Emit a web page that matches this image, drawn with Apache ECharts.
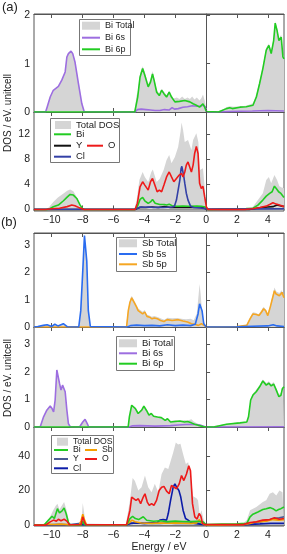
<!DOCTYPE html>
<html><head><meta charset="utf-8">
<script src="https://cdn.jsdelivr.net/npm/echarts@6/dist/echarts.min.js"></script>
<style>html,body{margin:0;padding:0;background:#fff}#c{width:287px;height:554px}</style>
</head><body><div id="c"></div>
<script>
// ---------- data: [energy (eV), DOS] ----------
const energyTicks = [-10,-8,-6,-4,-2,0,2,4];
const yTicks1 = [0,1,2], yTicks2 = [0,4,8,12], yTicks3 = [0,1,2,3], yTicks4 = [0,1,2,3], yTicks5 = [0,20,40];

// Panel (a) top
const a_biTotal = [[-11.15,0],[-10.4,0],[-10.3,0.1],[-10.1,0.31],[-9.9,0.45],[-9.57,0.53],[-9.35,0.66],[-9.13,0.85],[-9.02,1.15],[-8.92,1.22],[-8.75,1.27],[-8.64,1.22],[-8.49,1.04],[-8.27,0.6],[-8.05,0.18],[-7.9,0.02],[-7.8,0],[-4.65,0],[-4.5,0.35],[-4.43,0.4],[-4.28,0.8],[-4.11,0.95],[-3.97,0.83],[-3.75,0.58],[-3.6,0.68],[-3.47,0.85],[-3.37,0.72],[-3.2,0.46],[-3.03,0.38],[-2.88,0.48],[-2.73,0.42],[-2.56,0.35],[-2.39,0.44],[-2.24,0.34],[-2.1,0.28],[-1.9,0.3],[-1.72,0.27],[-1.55,0.32],[-1.38,0.27],[-1.2,0.3],[-1.05,0.27],[-0.9,0.32],[-0.75,0.26],[-0.6,0.3],[-0.42,0.24],[-0.3,0.29],[-0.2,0.36],[-0.09,0.24],[0.02,0.05],[0.1,0],[0.6,0],[1.0,0.04],[1.32,0.1],[1.53,0.12],[1.8,0.11],[2.2,0.12],[2.6,0.13],[3.04,0.18],[3.26,0.36],[3.47,0.64],[3.68,0.95],[3.9,1.33],[4.07,1.42],[4.22,1.27],[4.38,1.53],[4.48,1.88],[4.6,1.74],[4.72,1.53],[4.87,1.6],[4.98,1.2],[5.05,1.15]];
const a_bi6s = [[-11.15,0],[-10.4,0],[-10.3,0.1],[-10.1,0.31],[-9.9,0.45],[-9.57,0.53],[-9.35,0.66],[-9.13,0.83],[-9.02,1.14],[-8.92,1.21],[-8.75,1.26],[-8.64,1.21],[-8.49,1.03],[-8.27,0.59],[-8.05,0.17],[-7.9,0.01],[-7.8,0],[-4.6,0],[-4.45,0.05],[-4.2,0.06],[-3.9,0.05],[-3.6,0.04],[-3.3,0.03],[-3.0,0.03],[-2.7,0.05],[-2.4,0.04],[-2.2,0.09],[-2.05,0.06],[-1.8,0.07],[-1.5,0.1],[-1.2,0.11],[-0.9,0.13],[-0.6,0.12],[-0.35,0.12],[-0.2,0.15],[-0.05,0.1],[0.05,0],[0.6,0],[1.5,0.01],[3,0.02],[4,0.03],[5.05,0.02]];
const a_bi6p = [[-11.15,0],[-4.62,0],[-4.43,0.31],[-4.28,0.72],[-4.11,0.9],[-3.97,0.76],[-3.75,0.52],[-3.6,0.62],[-3.47,0.79],[-3.37,0.66],[-3.2,0.41],[-3.03,0.34],[-2.88,0.45],[-2.73,0.38],[-2.56,0.31],[-2.39,0.41],[-2.24,0.31],[-2.02,0.21],[-1.72,0.22],[-1.38,0.24],[-1.05,0.21],[-0.84,0.17],[-0.63,0.14],[-0.42,0.1],[-0.2,0.17],[-0.09,0.1],[0.02,0.01],[0.1,0],[0.8,0],[1.32,0.07],[1.53,0.09],[1.7,0.07],[2.2,0.1],[2.6,0.11],[3.04,0.14],[3.26,0.31],[3.47,0.59],[3.68,0.9],[3.9,1.28],[4.07,1.38],[4.22,1.21],[4.38,1.48],[4.48,1.84],[4.6,1.69],[4.72,1.48],[4.87,1.55],[4.98,1.14],[5.05,1.1]];

// Panel (a) bottom
const a_totalDOS = [[-11.15,0],[-10.4,0],[-10.2,0.3],[-9.9,1.2],[-9.6,1.9],[-9.24,2.56],[-9.0,3.0],[-8.81,3.2],[-8.6,2.9],[-8.38,2.0],[-8.16,0.8],[-7.95,0.1],[-7.8,0],[-4.65,0],[-4.5,1.5],[-4.32,4.7],[-4.11,6.0],[-3.97,5.2],[-3.75,4.4],[-3.55,6.0],[-3.45,6.4],[-3.2,4.4],[-3.0,4.9],[-2.75,6.3],[-2.56,7.9],[-2.39,8.7],[-2.24,7.4],[-2.02,8.4],[-1.81,10.0],[-1.65,12.5],[-1.59,13.9],[-1.49,12.7],[-1.38,10.8],[-1.17,11.1],[-0.95,9.5],[-0.84,11.1],[-0.63,12.2],[-0.5,10.8],[-0.4,6.3],[-0.2,6.6],[-0.09,3.6],[0.02,0.4],[0.15,0],[1.0,0],[2.0,0.05],[2.6,0.2],[3.04,0.45],[3.36,1.5],[3.68,2.6],[3.9,4.7],[4.07,5.2],[4.22,4.2],[4.43,5.5],[4.6,4.7],[4.75,3.7],[4.9,3.5],[5.05,3.4]];
const a_Bi = [[-11.15,0],[-10.3,0],[-10.1,0.16],[-9.9,0.43],[-9.57,0.7],[-9.24,1.39],[-9.02,1.92],[-8.81,2.4],[-8.6,2.3],[-8.38,1.76],[-8.16,0.69],[-7.99,0.1],[-7.85,0],[-4.62,0],[-4.43,0.6],[-4.28,1.6],[-4.11,1.92],[-3.97,1.39],[-3.75,0.96],[-3.6,1.2],[-3.47,1.6],[-3.3,1.0],[-3.2,0.7],[-3.0,0.8],[-2.88,0.96],[-2.7,0.8],[-2.56,0.7],[-2.39,0.85],[-2.2,0.6],[-1.9,0.5],[-1.5,0.55],[-1.1,0.5],[-0.6,0.55],[-0.3,0.5],[-0.2,0.7],[-0.05,0.4],[0.05,0.05],[0.2,0],[1.0,0.05],[2.0,0.1],[2.6,0.15],[3.04,0.2],[3.36,0.7],[3.68,1.5],[3.9,2.13],[4.12,2.56],[4.28,2.83],[4.43,3.73],[4.55,3.36],[4.7,2.83],[4.85,2.56],[5.05,1.92]];
const a_Y = [[-11.15,0],[-4.6,0],[-4.45,0.2],[-4.2,0.35],[-3.9,0.3],[-3.5,0.4],[-3.1,0.3],[-2.7,0.45],[-2.3,0.3],[-1.9,0.35],[-1.5,0.3],[-1.1,0.35],[-0.7,0.3],[-0.3,0.35],[-0.1,0.2],[0.1,0],[2.8,0],[3.2,0.15],[3.6,0.3],[4.0,0.4],[4.33,0.45],[4.6,0.7],[4.8,0.6],[5.05,0.45]];
const a_O = [[-11.15,0],[-10.4,0],[-10.0,0.1],[-9.5,0.2],[-9.0,0.45],[-8.7,0.7],[-8.5,0.6],[-8.2,0.25],[-7.9,0],[-4.6,0],[-4.45,1.0],[-4.28,3.63],[-4.11,4.43],[-3.97,3.9],[-3.75,3.1],[-3.6,4.43],[-3.47,4.96],[-3.32,3.9],[-3.17,2.83],[-3.03,3.1],[-2.88,2.83],[-2.73,3.9],[-2.56,5.2],[-2.39,6.0],[-2.24,5.2],[-2.09,4.43],[-1.92,4.96],[-1.74,5.5],[-1.59,5.76],[-1.49,5.2],[-1.38,6.0],[-1.28,7.1],[-1.17,7.6],[-1.06,6.8],[-0.95,6.0],[-0.84,7.1],[-0.74,8.96],[-0.63,10.1],[-0.52,8.96],[-0.42,4.2],[-0.31,3.36],[-0.2,3.7],[-0.09,2.0],[0.02,0.4],[0.13,0],[2.5,0],[3.0,0.1],[3.5,0.3],[3.9,0.53],[4.12,0.8],[4.33,1.07],[4.55,0.85],[4.75,0.7],[5.05,0.45]];
const a_Cl = [[-11.15,0.02],[-4.6,0.02],[-4.43,0.2],[-4.28,0.4],[-4.0,0.35],[-3.7,0.4],[-3.4,0.3],[-3.1,0.35],[-2.8,0.3],[-2.5,0.35],[-2.2,0.4],[-2.05,0.5],[-1.92,1.5],[-1.81,3.1],[-1.7,4.7],[-1.62,6.5],[-1.57,6.9],[-1.5,6.0],[-1.44,5.2],[-1.38,4.2],[-1.28,2.6],[-1.17,1.5],[-1.0,0.5],[-0.8,0.3],[-0.4,0.25],[0.0,0.1],[0.15,0.05],[5.05,0.1]];

// Panel (b) top
const b_sbTotal = [[-11.15,0],[-10.9,0.02],[-10.55,0.07],[-10.3,0.09],[-10.0,0.03],[-9.8,0.1],[-9.6,0.04],[-9.25,0.12],[-9.0,0.02],[-8.25,0],[-8.12,0.6],[-7.99,2.1],[-7.88,3.38],[-7.82,3.45],[-7.73,2.45],[-7.63,0.62],[-7.5,0.02],[-5.2,0],[-5.04,0.65],[-4.93,0.98],[-4.82,1.15],[-4.72,1.1],[-4.61,0.93],[-4.5,0.8],[-4.4,0.68],[-4.28,0.74],[-4.11,0.56],[-3.97,0.62],[-3.85,0.46],[-3.7,0.43],[-3.52,0.38],[-3.35,0.4],[-3.1,0.36],[-2.88,0.3],[-2.7,0.27],[-2.5,0.34],[-2.2,0.32],[-1.9,0.33],[-1.6,0.3],[-1.3,0.28],[-1.0,0.3],[-0.8,0.25],[-0.6,0.5],[-0.48,1.2],[-0.42,1.58],[-0.35,1.2],[-0.28,0.7],[-0.15,0.2],[0.0,0.02],[0.15,0],[1.5,0],[2.3,0.04],[2.64,0.1],[2.85,0.35],[3.04,0.54],[3.2,0.52],[3.4,0.47],[3.6,0.62],[3.73,0.74],[3.85,0.65],[4.0,0.5],[4.16,0.8],[4.28,1.08],[4.43,1.45],[4.55,1.3],[4.65,1.35],[4.75,1.25],[4.9,1.35],[5.05,1.15]];
const b_sb5s = [[-11.15,0],[-10.9,0.02],[-10.55,0.06],[-10.3,0.08],[-10.0,0.02],[-9.8,0.1],[-9.6,0.04],[-9.25,0.12],[-9.0,0.01],[-8.25,0],[-8.12,0.6],[-7.99,2.06],[-7.88,3.36],[-7.82,3.42],[-7.73,2.42],[-7.63,0.6],[-7.5,0.02],[-5.1,0],[-4.9,0.05],[-4.5,0.07],[-4.0,0.05],[-3.5,0.06],[-3.0,0.04],[-2.5,0.08],[-2.0,0.05],[-1.5,0.07],[-1.0,0.05],[-0.7,0.1],[-0.52,0.48],[-0.42,0.85],[-0.36,0.91],[-0.26,0.6],[-0.15,0.12],[0.0,0.01],[0.2,0],[2.0,0.01],[3.0,0.03],[4.0,0.04],[4.35,0.08],[4.6,0.04],[5.05,0.02]];
const b_sb5p = [[-11.15,0],[-5.15,0],[-5.04,0.6],[-4.93,0.91],[-4.82,1.07],[-4.72,1.03],[-4.61,0.85],[-4.5,0.73],[-4.4,0.6],[-4.28,0.67],[-4.11,0.48],[-3.97,0.55],[-3.83,0.39],[-3.66,0.36],[-3.5,0.3],[-3.35,0.33],[-3.15,0.3],[-2.95,0.24],[-2.73,0.2],[-2.52,0.27],[-2.2,0.24],[-1.8,0.27],[-1.5,0.22],[-1.2,0.18],[-0.95,0.12],[-0.75,0.1],[-0.5,0.06],[-0.3,0.12],[-0.1,0.05],[0.05,0],[2.0,0.02],[2.64,0.06],[2.85,0.3],[3.04,0.48],[3.26,0.46],[3.43,0.42],[3.6,0.55],[3.73,0.67],[3.86,0.6],[4.0,0.42],[4.16,0.73],[4.28,1.0],[4.43,1.33],[4.54,1.21],[4.65,1.27],[4.75,1.15],[4.92,1.27],[5.05,1.07]];

// Panel (b) middle
const b_biTotal = [[-11.15,0],[-10.75,0],[-10.53,0.38],[-10.32,0.63],[-10.1,0.78],[-9.98,0.69],[-9.88,0.57],[-9.78,1.0],[-9.67,2.1],[-9.6,2.15],[-9.5,1.62],[-9.4,1.36],[-9.3,1.55],[-9.24,1.62],[-9.13,1.3],[-9.02,0.63],[-8.92,0.13],[-8.8,0.01],[-8.2,0],[-7.99,0.19],[-7.84,0.29],[-7.7,0.13],[-7.6,0],[-5.05,0],[-4.97,0.38],[-4.82,0.82],[-4.7,0.86],[-4.58,0.7],[-4.4,0.52],[-4.17,0.64],[-4.03,0.79],[-3.85,0.62],[-3.7,0.46],[-3.55,0.52],[-3.4,0.42],[-3.15,0.38],[-2.9,0.35],[-2.65,0.28],[-2.5,0.33],[-2.3,0.22],[-2.0,0.25],[-1.7,0.22],[-1.4,0.25],[-1.2,0.24],[-0.95,0.28],[-0.8,0.2],[-0.6,0.14],[-0.35,0.08],[-0.1,0.03],[0.1,0],[1.0,0.08],[1.32,0.12],[2.0,0.16],[2.64,0.2],[2.75,0.4],[2.89,1.02],[3.04,1.22],[3.25,1.35],[3.47,1.52],[3.68,1.72],[3.9,1.6],[4.07,1.66],[4.22,1.56],[4.38,1.63],[4.55,1.42],[4.72,1.18],[4.85,1.25],[4.95,1.47],[5.05,1.52]];
const b_bi6s = [[-11.15,0],[-10.75,0],[-10.53,0.37],[-10.32,0.61],[-10.1,0.76],[-9.98,0.67],[-9.88,0.55],[-9.78,0.98],[-9.67,2.07],[-9.6,2.13],[-9.5,1.59],[-9.4,1.34],[-9.3,1.52],[-9.24,1.59],[-9.13,1.28],[-9.02,0.61],[-8.92,0.12],[-8.8,0.01],[-8.2,0],[-7.99,0.18],[-7.84,0.28],[-7.7,0.12],[-7.6,0],[-5.0,0],[-4.8,0.04],[-4.3,0.05],[-3.8,0.04],[-3.3,0.03],[-2.8,0.04],[-2.3,0.05],[-1.8,0.07],[-1.3,0.09],[-0.8,0.1],[-0.4,0.07],[-0.1,0.02],[0.1,0],[5.05,0.01]];
const b_bi6p = [[-11.15,0],[-5.05,0],[-4.97,0.37],[-4.82,0.79],[-4.7,0.83],[-4.58,0.67],[-4.4,0.49],[-4.17,0.61],[-4.03,0.76],[-3.85,0.59],[-3.7,0.43],[-3.55,0.49],[-3.4,0.39],[-3.15,0.36],[-2.9,0.34],[-2.65,0.24],[-2.5,0.3],[-2.3,0.18],[-2.0,0.2],[-1.7,0.22],[-1.4,0.18],[-1.2,0.2],[-0.95,0.15],[-0.75,0.1],[-0.5,0.06],[-0.2,0.02],[0.05,0],[0.5,0],[1.32,0.1],[2.2,0.15],[2.64,0.18],[2.75,0.37],[2.89,0.98],[3.04,1.16],[3.25,1.28],[3.47,1.46],[3.68,1.67],[3.9,1.52],[4.07,1.59],[4.22,1.49],[4.38,1.56],[4.55,1.34],[4.72,1.1],[4.85,1.15],[4.95,1.4],[5.05,1.46]];

// Panel (b) bottom
const b_totalDOS = [[-11.15,0],[-10.5,0],[-10.21,2.9],[-9.88,8.95],[-9.75,11],[-9.63,12.4],[-9.5,9],[-9.4,9.5],[-9.2,13.3],[-9.05,9],[-8.85,1],[-8.7,0.2],[-8.15,0.3],[-8.05,5],[-7.99,12.8],[-7.9,7],[-7.8,1],[-7.7,0.2],[-5.2,0.3],[-4.93,14.3],[-4.76,27.2],[-4.61,25.5],[-4.39,20],[-4.18,21.9],[-3.96,28.6],[-3.75,21.9],[-3.53,19],[-3.32,23.8],[-3.1,19],[-2.88,29.5],[-2.67,33.3],[-2.45,32.4],[-2.35,35.2],[-2.13,41.9],[-1.96,47.6],[-1.81,46.5],[-1.66,47],[-1.49,41],[-1.31,35.2],[-1.16,36.2],[-1.05,31.4],[-0.84,16.6],[-0.62,15.5],[-0.52,14.3],[-0.41,5.7],[-0.3,8.6],[-0.15,2.9],[0.02,0.3],[1.5,0.5],[2.4,1],[2.64,2.9],[2.85,8.6],[3.26,10.5],[3.68,13.3],[3.9,14.3],[4.12,18.1],[4.33,19],[4.55,17.1],[4.75,20],[4.95,19],[5.05,18]];
const b_Bi = [[-11.15,0],[-10.5,0],[-10.21,2.9],[-9.98,5.1],[-9.83,3.8],[-9.63,9.5],[-9.5,7.0],[-9.33,8.2],[-9.2,9.9],[-9.07,6.7],[-8.92,1.5],[-8.8,0.2],[-8.1,0],[-7.99,2.3],[-7.88,0.2],[-5.15,0.2],[-4.93,3.8],[-4.76,5.1],[-4.58,3.8],[-4.37,3.2],[-4.07,4.8],[-3.85,2.8],[-3.4,2.2],[-3.0,2.5],[-2.5,2.0],[-2.0,2.3],[-1.5,2.1],[-1.0,2.0],[-0.6,2.2],[-0.2,1.9],[0.0,0.3],[1.0,0.6],[2.0,0.8],[2.64,1],[2.85,4.8],[3.04,6.3],[3.36,7.6],[3.68,9],[3.9,9.5],[4.16,10.1],[4.33,9.5],[4.54,8.2],[4.7,9],[4.85,9.5],[5.05,10.5]];
const b_Sb = [[-11.15,0],[-10.6,0.2],[-10.2,0.5],[-9.8,0.4],[-9.4,0.6],[-9.0,0.3],[-8.6,0.1],[-8.2,0.3],[-8.1,2.5],[-7.99,6.3],[-7.88,3.0],[-7.75,0.3],[-5.2,0.2],[-5.0,1.3],[-4.8,2.9],[-4.6,2.0],[-4.2,1.2],[-3.5,1.0],[-3.0,1.2],[-2.5,1.1],[-2.0,1.3],[-1.5,1.1],[-1.0,1.0],[-0.6,1.3],[-0.45,3.2],[-0.3,1.4],[-0.1,0.3],[0.1,0],[2.4,0.2],[2.85,1],[3.26,1.9],[3.9,2.3],[4.33,3.2],[4.7,2.9],[5.05,3.2]];
const b_Y = [[-11.15,0],[-10.5,0.1],[-9.5,0.5],[-8.9,0.2],[-8.0,1.2],[-7.8,0.2],[-5.2,0.2],[-4.9,1.0],[-4.5,1.2],[-4,0.9],[-3.5,1.1],[-3.0,1.0],[-2.5,1.2],[-2,1.0],[-1.5,1.1],[-1.0,1.0],[-0.5,1.1],[-0.1,0.4],[0.1,0.1],[2.5,0.3],[3.0,1.3],[3.5,1.8],[3.9,2.5],[4.43,3.8],[4.75,4.2],[5.05,4.8]];
const b_O = [[-11.15,0],[-10.4,0],[-10.1,1.9],[-9.88,2.9],[-9.7,2.3],[-9.57,3.4],[-9.4,2.5],[-9.2,3.4],[-9.02,2.3],[-8.85,0.2],[-8.1,0.3],[-7.99,4.8],[-7.88,1.9],[-7.78,0.2],[-5.15,0.2],[-4.93,8.6],[-4.82,16.2],[-4.72,16.6],[-4.54,14.3],[-4.39,15.2],[-4.24,12.4],[-4.07,16.2],[-3.96,18.1],[-3.81,13.3],[-3.68,11.4],[-3.53,12.4],[-3.38,11.4],[-3.21,14.3],[-3.04,20],[-2.88,21.9],[-2.73,22.3],[-2.56,19.6],[-2.39,18.1],[-2.24,22.9],[-2.09,22],[-1.91,21],[-1.74,23.8],[-1.59,28.6],[-1.44,25.7],[-1.27,29.5],[-1.12,34.3],[-1.01,31.4],[-0.88,12.4],[-0.73,4.8],[-0.58,3.5],[-0.45,6.7],[-0.34,5.2],[-0.23,1],[-0.08,0.3],[2.4,0.3],[2.85,1.5],[3.26,1.9],[3.68,2.9],[4.12,3.2],[4.43,4.2],[4.75,3.4],[5.05,3.8]];
const b_Cl = [[-11.15,0.2],[-5.15,0.2],[-4.9,1.0],[-4.5,1.2],[-4.0,1.0],[-3.5,1.3],[-3.2,1.2],[-2.99,2.9],[-2.78,3.2],[-2.56,2.9],[-2.45,6.7],[-2.3,14.3],[-2.13,21.9],[-2.02,23.8],[-1.91,21.9],[-1.76,20],[-1.64,16.2],[-1.49,8.6],[-1.33,3.8],[-1.16,2.9],[-0.94,1.3],[-0.4,0.6],[0.0,0.2],[2.5,0.3],[3.5,0.7],[4.2,1],[5.05,1]];

// ---------- layout ----------
const FONT = 'Liberation Sans, Arial, Helvetica, sans-serif';
const XMIN = -11.15, XMAX = 5.05;
const grids = [
  {top:14, height:98, ymin:0, ymax:2.03, ticks:yTicks1, xlab:false},
  {top:112, height:99, ymin:-0.25, ymax:15.6, ticks:yTicks2, xlab:true},
  {top:233, height:94, ymin:0, ymax:3.45, ticks:yTicks3, xlab:false},
  {top:327, height:100, ymin:0, ymax:3.63, ticks:yTicks4, xlab:false},
  {top:427, height:99, ymin:-0.5, ymax:56.6, ticks:yTicks5, xlab:true}
];
const AX = '#555', TXT = '#222', GRAY = '#d5d5d5';

const grid = grids.map(g => ({left:34, right:3, top:g.top, height:g.height, show:true, borderColor:AX, borderWidth:1, backgroundColor:'transparent'}));
const xAxis = [], yAxis = [];
grids.forEach((g,i) => {
  const base = {type:'value', gridIndex:i, min:XMIN, max:XMAX, splitLine:{show:false},
    axisLine:{show:true, lineStyle:{color:AX}},
    axisTick:{show:true, inside:true, length:4, lineStyle:{color:AX}, customValues:energyTicks}};
  xAxis.push(Object.assign({}, base, {position:'bottom',
    axisLabel:{show:g.xlab, customValues:energyTicks, fontSize:10.5, color:TXT, fontFamily:FONT, margin:4,
      formatter:v => String(v).replace('-', '\u2212')}}));
  xAxis.push(Object.assign({}, base, {position:'top', axisLabel:{show:false}}));
  yAxis.push({type:'value', gridIndex:i, min:g.ymin, max:g.ymax, splitLine:{show:false},
    axisLine:{show:true, lineStyle:{color:AX}},
    axisTick:{show:true, inside:true, length:4, lineStyle:{color:AX}, customValues:g.ticks},
    axisLabel:{customValues:g.ticks, fontSize:10.5, color:TXT, fontFamily:FONT, margin:4}});
});

const series = [];
function area(name, data, gi) {
  series.push({type:'line', name, data, xAxisIndex:gi*2, yAxisIndex:gi, symbol:'none', showSymbol:false,
    lineStyle:{width:0, color:GRAY}, itemStyle:{color:GRAY}, areaStyle:{color:GRAY, opacity:1}, z:1, silent:true,
    markLine:{silent:true, symbol:'none', label:{show:false}, lineStyle:{color:'#555', type:'dotted', width:1}, data:[{xAxis:0}]}});
}
function line(name, data, color, gi, z) {
  series.push({type:'line', name, data, xAxisIndex:gi*2, yAxisIndex:gi, symbol:'none', showSymbol:false,
    lineStyle:{width:1.6, color}, itemStyle:{color}, z:z||3, silent:true});
}
const GREEN='#22cc22', PURPLE='#9d6ee0', RED='#ee1a1a', ORANGE='#f5a623', SBBLUE='#2a6cf0';
area('Bi Total', a_biTotal, 0);
line('Bi 6s', a_bi6s, PURPLE, 0, 3);
line('Bi 6p', a_bi6p, GREEN, 0, 4);

area('Total DOS', a_totalDOS, 1);
line('Y', a_Y, '#111111', 1, 3);
line('Bi', a_Bi, GREEN, 1, 4);
line('Cl', a_Cl, '#3340a6', 1, 5);
line('O', a_O, RED, 1, 6);

area('Sb Total', b_sbTotal, 2);
line('Sb 5p', b_sb5p, ORANGE, 2, 3);
line('Sb 5s', b_sb5s, SBBLUE, 2, 4);

area('Bi Total ', b_biTotal, 3);
line('Bi 6s ', b_bi6s, PURPLE, 3, 3);
line('Bi 6p ', b_bi6p, GREEN, 3, 4);

area('Total DOS ', b_totalDOS, 4);
line('Y ', b_Y, '#4b5a94', 4, 3);
line('Cl ', b_Cl, '#0c1ca8', 4, 4);
line('Sb ', b_Sb, '#f5a000', 4, 5);
line('Bi ', b_Bi, GREEN, 4, 6);
line('O ', b_O, RED, 4, 7);

// legends: one component per entry
const legend = [];
function leg(name, left, cy, fs, isArea, w) {
  legend.push({show:true, z:20, data:[{name, icon:'rect'}], left, top:cy-6, orient:'horizontal',
    padding:0, itemWidth:w||18, itemHeight:isArea?8:2, selectedMode:false,
    formatter:n => n.trim(),
    textStyle:{fontSize:fs, color:TXT, fontFamily:FONT, lineHeight:12, padding:0}});
}
leg('Bi Total', 82, 25.7, 9, true); leg('Bi 6s', 82, 37.7, 9); leg('Bi 6p', 82, 49.3, 9);
leg('Total DOS', 55, 125, 9.5, true, 16); leg('Bi', 54, 134.3, 9.5, false, 17); leg('Y', 54, 145.7, 9.5, false, 17);
leg('O', 87, 145.7, 9.5, false, 16); leg('Cl', 54, 156.7, 9.5, false, 17);
leg('Sb Total', 119, 243.3, 9.5, true); leg('Sb 5s', 119, 254, 9.5); leg('Sb 5p', 119, 264.3, 9.5);
leg('Bi Total ', 119, 343.3, 9.5, true); leg('Bi 6s ', 119, 353.3, 9.5); leg('Bi 6p ', 119, 363.7, 9.5);
leg('Total DOS ', 57, 441.7, 8.7, true, 11); leg('Bi ', 54, 450, 8.7, false, 14); leg('Sb ', 85, 450, 8.7, false, 12);
leg('Y ', 54, 459, 8.7, false, 14); leg('O ', 85, 459, 8.7, false, 12); leg('Cl ', 54, 468.3, 8.7, false, 14);

const boxStyle = {fill:'#fff', stroke:'#777', lineWidth:1};
const graphic = [
  {type:'rect', shape:{x:79.5, y:19.5, width:51, height:36}, style:boxStyle, z:10, silent:true},
  {type:'rect', shape:{x:50.5, y:118.5, width:69, height:44}, style:boxStyle, z:10, silent:true},
  {type:'rect', shape:{x:116.5, y:237.5, width:60, height:34}, style:boxStyle, z:10, silent:true},
  {type:'rect', shape:{x:116.5, y:336.5, width:58, height:34}, style:boxStyle, z:10, silent:true},
  {type:'rect', shape:{x:51.5, y:435.5, width:62, height:38}, style:boxStyle, z:10, silent:true},
  {type:'text', left:2, top:1, style:{text:'(a)', fontSize:13, fill:TXT, font:'13px '+FONT}},
  {type:'text', left:1, top:216, style:{text:'(b)', fontSize:13, fill:TXT, font:'13px '+FONT}},
  {type:'text', x:8.5, y:113, rotation:Math.PI/2, style:{text:'DOS / eV. unitcell', font:'10px '+FONT, fill:TXT, textAlign:'center', textVerticalAlign:'middle'}},
  {type:'text', x:8.5, y:378, rotation:Math.PI/2, style:{text:'DOS / eV. unitcell', font:'10px '+FONT, fill:TXT, textAlign:'center', textVerticalAlign:'middle'}},
  {type:'text', x:159, y:547, style:{text:'Energy / eV', font:'10.5px '+FONT, fill:TXT, textAlign:'center', textVerticalAlign:'middle'}}
];

const chart = echarts.init(document.getElementById('c'), null, {renderer:'canvas'});
chart.setOption({animation:false, grid, xAxis, yAxis, series, legend, graphic, tooltip:{show:false}});
</script></body></html>
